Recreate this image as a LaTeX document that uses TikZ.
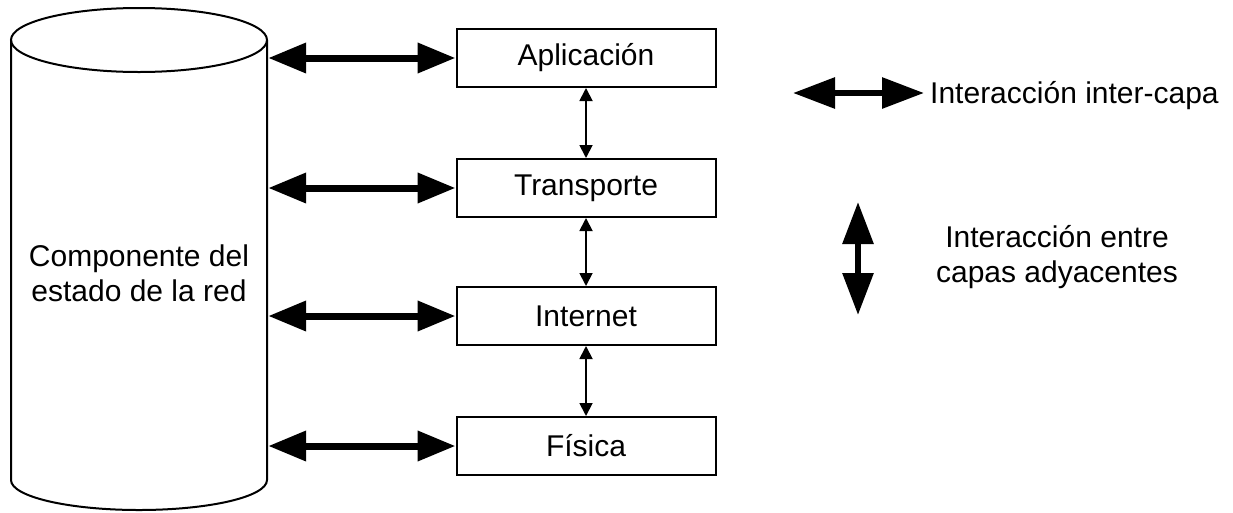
\documentclass[tikz,border=0pt]{standalone}
\usepackage{fontspec}
\setmainfont{Liberation Sans}
\usetikzlibrary{arrows.meta}
\begin{document}
\begin{tikzpicture}[x=1pt,y=-1pt,
  layer/.style={draw, line width=2pt, minimum width=259pt, minimum height=58pt, inner sep=0pt,
    font=\fontsize{30pt}{35pt}\selectfont},
  bigarrow/.style={line width=7pt, {Triangle[length=38pt,width=29pt]}-{Triangle[length=38pt,width=29pt]}},
  legarrow/.style={line width=6pt, {Triangle[length=42pt,width=30pt]}-{Triangle[length=42pt,width=30pt]}},
  thinarrow/.style={line width=1.8pt, {Triangle[length=13pt,width=13pt]}-{Triangle[length=13pt,width=13pt]}},
  lbl/.style={align=center, inner sep=0pt, font=\fontsize{30pt}{35pt}\selectfont}]
\useasboundingbox (0,0) rectangle (1233,512);
% cylinder
\node[minimum width=256pt, minimum height=502pt, inner sep=0pt] (cyl) at (139,259) {};
\draw[line width=2pt] (139,40) ellipse [x radius=128pt, y radius=32pt];
\draw[line width=2pt] (11,40) -- (11,480) arc[start angle=180, end angle=360, x radius=128pt, y radius=30pt] -- (267,40);
\node[lbl] (cyltext) at (139,273) {Componente del\\estado de la red};
% layers
\node[layer] (apl) at (586,58) {Aplicación};
\node[layer] (tra) at (586,188) {Transporte};
\node[layer] (int) at (586,316) {Internet};
\node[layer] (fis) at (586,446) {Física};
% inter-layer arrows
\foreach \n in {apl,tra,int,fis}{
  \draw[bigarrow] ([xshift=1pt]cyl.east |- \n.west) -- (\n.west);
}
% adjacent arrows
\draw[thinarrow] (apl.south) -- (tra.north);
\draw[thinarrow] (tra.south) -- (int.north);
\draw[thinarrow] (int.south) -- (fis.north);
% legend
\coordinate (h1) at (793,93);
\coordinate (h2) at (924,93);
\draw[legarrow] (h1) -- (h2);
\node[lbl, anchor=base west] (legh) at (930,103) {Interacción inter-capa};
\coordinate (v1) at (858,202);
\coordinate (v2) at (858,315);
\draw[legarrow] (v1) -- (v2);
\node[lbl] (legv) at (1057,257) {Interacción entre\\capas adyacentes};
\end{tikzpicture}
\end{document}
